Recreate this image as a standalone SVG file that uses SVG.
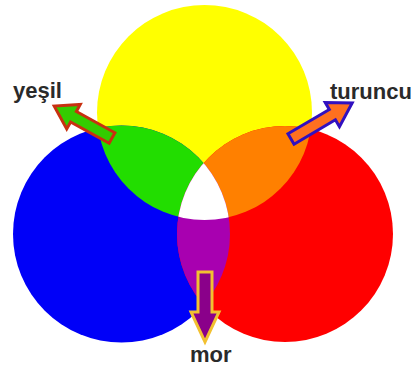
<svg xmlns="http://www.w3.org/2000/svg" width="411" height="382" viewBox="0 0 411 382">
<style>
.lbl{font-family:"Liberation Sans",Arial,sans-serif;font-weight:bold;font-size:22px;fill:#2a2a2a}
.arr{stroke-width:3;stroke-linejoin:miter}
</style>
<defs>
<circle id="cy" cx="204.5" cy="112.5" r="107.5"/>
<circle id="cb" cx="121.5" cy="234" r="108.5"/>
<circle id="cr" cx="285" cy="234" r="108"/>
<clipPath id="clipY"><use href="#cy"/></clipPath>
<clipPath id="clipB"><use href="#cb"/></clipPath>
<clipPath id="clipR"><use href="#cr"/></clipPath>
</defs>
<rect width="411" height="382" fill="#ffffff"/>
<g id="circles">
<g id="sari"><use href="#cy" fill="#ffff00"/></g>
<g id="mavi"><use href="#cb" fill="#0000f8"/></g>
<g id="kirmizi"><use href="#cr" fill="#ff0000"/></g>
<g id="yesil-bolge" clip-path="url(#clipY)"><use href="#cb" fill="#22dd00"/></g>
<g id="turuncu-bolge" clip-path="url(#clipY)"><use href="#cr" fill="#ff8000"/></g>
<g id="mor-bolge" clip-path="url(#clipB)"><use href="#cr" fill="#a800b0"/></g>
<g id="beyaz-bolge" clip-path="url(#clipB)"><g clip-path="url(#clipY)"><use href="#cr" fill="#ffffff"/></g></g>
</g>
<g id="connectors">
<polygon class="arr" transform="translate(112,138) rotate(208.9)" points="0,-6 44,-6 44,-14 66,0 44,14 44,6 0,6" fill="#33cc00" stroke="#c83010"/>
<polygon class="arr" transform="translate(291,139) rotate(-30.5)" points="0,-6 48,-6 48,-14 71,0 48,14 48,6 0,6" fill="#ff7020" stroke="#3010c0"/>
<polygon class="arr" transform="translate(205,272) rotate(90)" points="0,-7 40,-7 40,-14 70,0 40,14 40,7 0,7" fill="#8a008a" stroke="#f2c030"/>
</g>
<g id="yesil"><text class="lbl" x="13" y="98">yeşil</text></g>
<g id="turuncu"><text class="lbl" x="330" y="99">turuncu</text></g>
<g id="mor"><text class="lbl" x="190" y="362">mor</text></g>
</svg>
